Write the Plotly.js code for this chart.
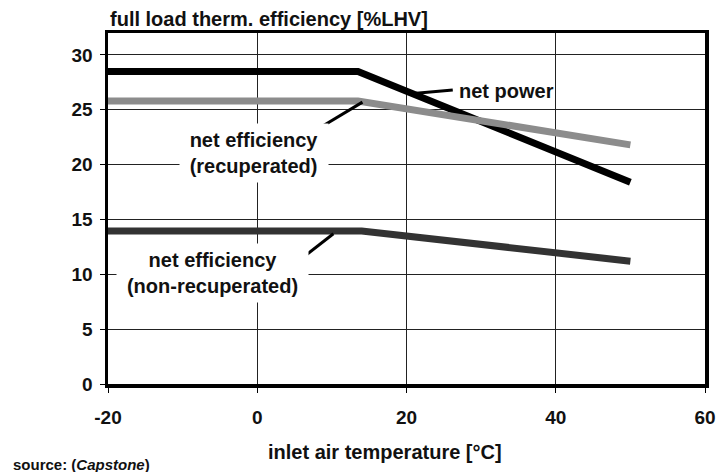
<!DOCTYPE html>
<html><head><meta charset="utf-8">
<script src="https://cdn.plot.ly/plotly-3.0.1.min.js"></script>
<style>html,body{margin:0;padding:0;background:#fff}#chart{width:716px;height:472px}</style>
</head><body><div id="chart"></div>
<script>
// inlet air temperature [°C]
const tempPower = [-20, 13.5, 50];
const netPower = [28.5, 28.5, 18.4];
const tempRecup = [-20, 13.5, 50];
const effRecup = [25.8, 25.8, 21.8];
const tempNonRecup = [-20, 14, 50];
const effNonRecup = [13.95, 13.95, 11.2];
const xTicks = [-20, 0, 20, 40, 60];
const xTickLabels = ['-20', '0', '20', '40', '60'];
const yTicks = [0, 5, 10, 15, 20, 25, 30];
const yTickLabels = ['0', '5', '10', '15', '20', '25', '30'];

const F = 'Liberation Sans, Arial, sans-serif';
const traces = [
  {x: tempPower, y: netPower, mode: 'lines', line: {color: '#000000', width: 7}, name: 'net power'},
  {x: tempRecup, y: effRecup, mode: 'lines', line: {color: '#8c8c8c', width: 7}, name: 'net efficiency (recuperated)'},
  {x: tempNonRecup, y: effNonRecup, mode: 'lines', line: {color: '#333333', width: 7}, name: 'net efficiency (non-recuperated)'}
];
const layout = {
  width: 716, height: 472,
  margin: {l: 108, r: 11, t: 33, b: 88},
  paper_bgcolor: '#fff', plot_bgcolor: '#fff',
  showlegend: false,
  font: {family: F, color: '#111'},
  xaxis: {range: [-20, 60], tickvals: xTicks, ticktext: xTickLabels, ticks: 'outside', ticklen: 5, tickcolor: '#000',
    ticklabelstandoff: 9,
    showgrid: true, gridcolor: '#222', gridwidth: 1, zeroline: false,
    showline: true, linecolor: '#000', linewidth: 3.5, mirror: true,
    tickfont: {size: 19, family: F, weight: 'bold'}},
  yaxis: {range: [0, 32], tickvals: yTicks, ticktext: yTickLabels, ticks: 'outside', ticklen: 5, tickcolor: '#000',
    ticklabelstandoff: 3,
    showgrid: true, gridcolor: '#222', gridwidth: 1, zeroline: false,
    showline: true, linecolor: '#000', linewidth: 3.5, mirror: true,
    tickfont: {size: 19, family: F, weight: 'bold'}},
  shapes: [
    {type: 'line', xref: 'x', yref: 'y', x0: 26.2, y0: 26.8, x1: 21.3, y1: 26.5, line: {color: '#000', width: 3}},
    {type: 'line', xref: 'x', yref: 'y', x0: 8.5, y0: 23.4, x1: 14.1, y1: 25.7, line: {color: '#000', width: 3}},
    {type: 'line', xref: 'x', yref: 'y', x0: 5.4, y0: 11.15, x1: 10.2, y1: 13.7, line: {color: '#000', width: 3}}
  ],
  annotations: [
    {xref: 'paper', yref: 'paper', x: 0, y: 1, yanchor: 'bottom', xanchor: 'left', yshift: 1, showarrow: false,
      text: 'full load therm. efficiency [%LHV]', font: {size: 20, weight: 'bold', family: F}},
    {xref: 'x', yref: 'y', x: 26.8, y: 26.75, xanchor: 'left', showarrow: false,
      text: 'net power', font: {size: 20, weight: 'bold', family: F}},
    {xref: 'x', yref: 'y', x: -0.4, y: 21.1, showarrow: false, bgcolor: '#fff', borderpad: 2,
      width: 144, height: 54,
      text: 'net efficiency<br>(recuperated)', font: {size: 20, weight: 'bold', family: F}},
    {xref: 'x', yref: 'y', x: -5.95, y: 10.1, showarrow: false, bgcolor: '#fff', borderpad: 2,
      width: 187, height: 54,
      text: 'net efficiency<br>(non-recuperated)', font: {size: 20, weight: 'bold', family: F}},
    {xref: 'paper', yref: 'paper', x: 0.464, y: -0.194, xanchor: 'center', yanchor: 'middle', showarrow: false,
      text: 'inlet air temperature [°C]', font: {size: 20, weight: 'bold', family: F}},
    {xref: 'paper', yref: 'paper', x: -0.163, y: -0.229, xanchor: 'left', yanchor: 'middle', showarrow: false,
      text: 'source: (<i>Capstone</i>)', font: {size: 15, weight: 'bold', family: F}}
  ]
};
Plotly.newPlot('chart', traces, layout, {displayModeBar: false, staticPlot: true});
</script></body></html>
